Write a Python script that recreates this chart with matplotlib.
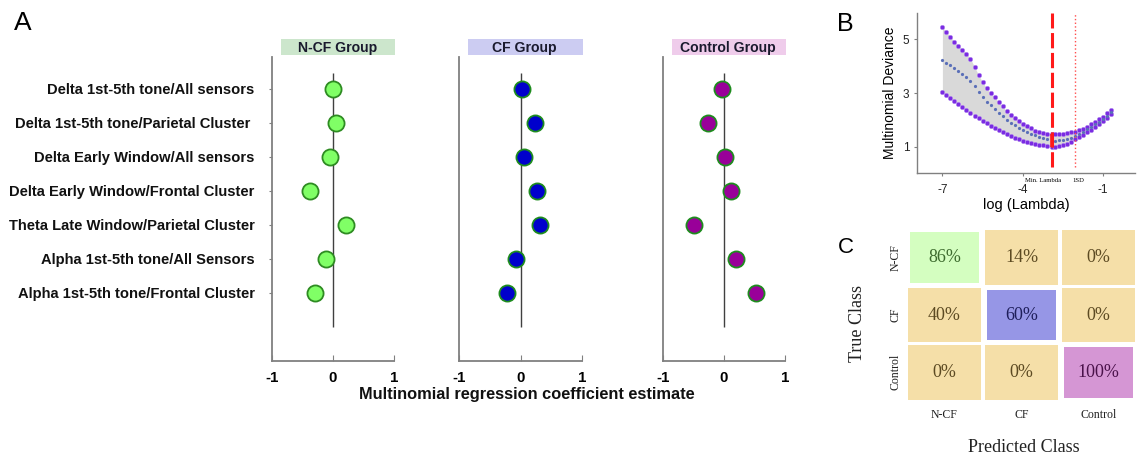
import matplotlib
matplotlib.use("Agg")
import matplotlib.pyplot as plt
from matplotlib.patches import Rectangle
import matplotlib.transforms as mtrans
import numpy as np

plt.rcParams["font.family"] = ["Liberation Sans", "DejaVu Sans"]
plt.rcParams["axes.unicode_minus"] = False
SERIF = ["Liberation Serif", "DejaVu Serif"]

# ── Data ──────────────────────────────────────────────────────────────────────

ROWS = [
    "Delta 1st-5th tone/All sensors",
    "Delta 1st-5th tone/Parietal Cluster ",
    "Delta Early Window/All sensors",
    "Delta Early Window/Frontal Cluster",
    "Theta Late Window/Parietal Cluster",
    "Alpha 1st-5th tone/All Sensors",
    "Alpha 1st-5th tone/Frontal Cluster",
]
ncf_coef = [0.00, 0.05, -0.05, -0.38, 0.21, -0.11, -0.29]
cf_coef = [0.03, 0.24, 0.05, 0.27, 0.31, -0.07, -0.22]
ctrl_coef = [-0.03, -0.27, 0.01, 0.11, -0.49, 0.20, 0.52]

# cross-validation curve (log lambda vs multinomial deviance)
loglam = [-7.00, -6.85, -6.70, -6.55, -6.40, -6.25, -6.10, -5.95, -5.80, -5.65,
          -5.50, -5.35, -5.20, -5.05, -4.90, -4.75, -4.60, -4.45, -4.30, -4.15,
          -4.00, -3.85, -3.70, -3.55, -3.40, -3.25, -3.10, -2.90, -2.80, -2.65,
          -2.50, -2.35, -2.20, -2.05, -1.90, -1.75, -1.60, -1.45, -1.30, -1.15,
          -1.00, -0.85, -0.70]
dev_hi = [5.45, 5.27, 5.09, 4.91, 4.75, 4.62, 4.47, 4.27, 3.98, 3.67,
          3.41, 3.18, 3.00, 2.84, 2.67, 2.50, 2.32, 2.18, 2.06, 1.95,
          1.86, 1.77, 1.68, 1.60, 1.54, 1.50, 1.47, 1.46, 1.46, 1.47,
          1.48, 1.50, 1.53, 1.56, 1.61, 1.67, 1.75, 1.84, 1.93, 2.02,
          2.12, 2.24, 2.38]
dev_mean = [4.23, 4.13, 4.03, 3.93, 3.83, 3.72, 3.60, 3.46, 3.26, 3.04,
            2.84, 2.68, 2.54, 2.41, 2.26, 2.13, 2.00, 1.89, 1.79, 1.70,
            1.63, 1.56, 1.49, 1.43, 1.37, 1.32, 1.27, 1.22, 1.23, 1.24,
            1.26, 1.29, 1.33, 1.39, 1.46, 1.55, 1.65, 1.74, 1.84, 1.93,
            2.03, 2.15, 2.30]
dev_lo = [3.03, 2.91, 2.80, 2.69, 2.58, 2.46, 2.36, 2.26, 2.16, 2.06,
          1.96, 1.87, 1.78, 1.69, 1.61, 1.53, 1.46, 1.40, 1.34, 1.28,
          1.23, 1.19, 1.15, 1.11, 1.08, 1.05, 1.02, 1.00, 1.00, 1.02,
          1.06, 1.11, 1.18, 1.27, 1.36, 1.45, 1.53, 1.63, 1.73, 1.83,
          1.94, 2.07, 2.22]
LAM_1SE = -2.05

CLASSES = ["N-CF", "CF", "Control"]
conf_pct = [[86, 14, 0],
            [40, 60, 0],
            [0, 0, 100]]

# ── Figure ────────────────────────────────────────────────────────────────────

W, H = 1139, 455
fig = plt.figure(figsize=(W / 100, H / 100), dpi=100)


def px_axes(left, top, right, bottom):
    return fig.add_axes([left / W, 1 - bottom / H, (right - left) / W, (bottom - top) / H])


# ── Panel A: coefficient dot plots ───────────────────────────────────────────

GROUPS = [
    ("N-CF Group", ncf_coef, "#80FF66", "#2E8B22", "#CCE6CC", 272, 394),
    ("CF Group", cf_coef, "#0000CC", "#1E8C1E", "#CCCCF2", 459, 582),
    ("Control Group", ctrl_coef, "#990099", "#1E8C1E", "#EFCCEB", 663, 785),
]
ypos = np.arange(1, len(ROWS) + 1)

for k, (title, coef, fill, edge, head, left, right) in enumerate(GROUPS):
    ax = px_axes(left, 57, right, 361)
    ax.vlines(0, 0.53, 8.0, color="#404040", lw=1.0, zorder=1)
    ax.scatter(coef, ypos, s=135, c=fill, edgecolors=edge, linewidths=1.3, zorder=3)
    ax.set_xlim(-1, 1)
    ax.set_ylim(9.0, 0.06)
    for s in ["top", "right"]:
        ax.spines[s].set_visible(False)
    for s in ["left", "bottom"]:
        ax.spines[s].set_color("#808080")
        ax.spines[s].set_linewidth(1.3)
    ax.set_xticks([-1, 0, 1])
    ax.set_xticklabels(["-1", "0", "1"], fontweight="bold", fontsize=10.8)
    ax.tick_params(axis="x", direction="in", length=4, color="#808080", pad=7)
    if k == 0:
        ax.set_yticks(ypos)
        ax.set_yticklabels(ROWS, fontweight="bold", fontsize=10.6, color="#111111")
        ax.tick_params(axis="y", direction="out", length=2.5, color="#808080", pad=10)
    else:
        ax.set_yticks([])
    ax.add_patch(Rectangle((0.07, 1.005), 0.935, 0.053, transform=ax.transAxes,
                           facecolor=head, edgecolor="none", clip_on=False))
    ax.text(0.535, 1.031, title, transform=ax.transAxes, ha="center", va="center",
            fontweight="bold", fontsize=10.1, color="#1a1a2e")

fig.text(527 / W, 1 - 395 / H, "Multinomial regression coefficient estimate",
         ha="center", va="center", fontweight="bold", fontsize=11.8, color="#111111")

# ── Panel B: cross-validation deviance curve ─────────────────────────────────

axb = px_axes(917, 13, 1135, 173)
axb.fill_between(loglam, dev_lo, dev_hi, color="#D9D9D9", lw=0, zorder=1)
axb.plot(loglam, dev_hi, "o", ms=3.2, color="#7A2BE2", mec="#B58CF0", mew=0.4, zorder=3)
axb.plot(loglam, dev_lo, "o", ms=3.2, color="#7A2BE2", mec="#B58CF0", mew=0.4, zorder=3)
axb.plot(loglam, dev_mean, "o", ms=2.3, color="#5A6FB8", mec="none", zorder=3)

imin = int(np.argmin(dev_mean))
lam_min = loglam[imin]
axb.axvline(lam_min, ymin=0.04, ymax=1.0, color="#FF1A1A", lw=2.2,
            ls=(0, (5, 1.5)), zorder=4)
axb.vlines(lam_min, dev_lo[imin], dev_hi[imin], color="#FF1A1A", lw=2.6, zorder=5)
axb.axvline(LAM_1SE, ymin=0.04, ymax=1.0, color="#FF4D4D", lw=1.0, ls=":", zorder=4)

tr = mtrans.blended_transform_factory(axb.transData, axb.transAxes)
axb.text(lam_min - 0.35, -0.03, "Min. Lambda", transform=tr, ha="center", va="top",
         fontsize=4.8, family=SERIF)
axb.text(LAM_1SE + 0.12, -0.03, "1SD", transform=tr, ha="center", va="top",
         fontsize=4.8, family=SERIF)

axb.set_xlim(-7.95, 0.2)
axb.set_ylim(0.02, 5.98)
axb.set_xticks([-7, -4, -1])
axb.set_yticks([1, 3, 5])
for s in ["top", "right"]:
    axb.spines[s].set_visible(False)
for s in ["left", "bottom"]:
    axb.spines[s].set_color("#808080")
    axb.spines[s].set_linewidth(1.0)
axb.tick_params(length=2, color="#808080", labelsize=8.5, labelcolor="#222222")
axb.tick_params(axis="x", pad=6)
axb.set_xlabel("log (Lambda)", fontsize=10.5, labelpad=1)
axb.set_ylabel("Multinomial Deviance", fontsize=10, labelpad=4)

# ── Panel C: confusion matrix ────────────────────────────────────────────────

DIAG_COLORS = ["#D4FEC0", "#9696E6", "#D596D4"]
DIAG_TEXT = ["#3D6B2E", "#1E1E5A", "#4A124A"]
OFF_COLOR = "#F5DFA8"
OFF_TEXT = "#5C4A22"

axc = px_axes(906, 229, 1137, 401)
n = len(CLASSES)
for i in range(n):
    for j in range(n):
        if i == j:
            fc, tc, gx, gy = DIAG_COLORS[i], DIAG_TEXT[i], 0.05, 0.06
        else:
            fc, tc, gx, gy = OFF_COLOR, OFF_TEXT, 0.025, 0.025
        axc.add_patch(Rectangle((j + gx, i + gy), 1 - 2 * gx, 1 - 2 * gy,
                                facecolor=fc, edgecolor="none"))
        axc.text(j + 0.5, i + 0.5, f"{conf_pct[i][j]}%", ha="center", va="center",
                 fontsize=13, color=tc, family=SERIF)
axc.set_xlim(0, n)
axc.set_ylim(n, 0)
axc.set_xticks(np.arange(n) + 0.5)
axc.set_xticklabels(CLASSES, family=SERIF, fontsize=8.5, color="#222222")
axc.set_yticks(np.arange(n) + 0.5)
axc.set_yticklabels(CLASSES, family=SERIF, fontsize=8.5, color="#222222",
                    rotation=90, va="center")
axc.tick_params(length=0)
axc.tick_params(axis="x", pad=6)
axc.tick_params(axis="y", pad=3)
for s in axc.spines.values():
    s.set_visible(False)

fig.text(858 / W, 1 - 324 / H, "True Class", rotation=90, ha="center", va="center",
         fontsize=13, family=SERIF, color="#222222")
fig.text(1024 / W, 1 - 447 / H, "Predicted Class", ha="center", va="center",
         fontsize=13, family=SERIF, color="#222222")

# ── Panel letters ────────────────────────────────────────────────────────────

fig.text(23 / W, 1 - 23 / H, "A", ha="center", va="center", fontsize=19)
fig.text(845 / W, 1 - 24 / H, "B", ha="center", va="center", fontsize=18)
fig.text(846 / W, 1 - 248 / H, "C", ha="center", va="center", fontsize=16)

fig.savefig("out.png", dpi=100)
